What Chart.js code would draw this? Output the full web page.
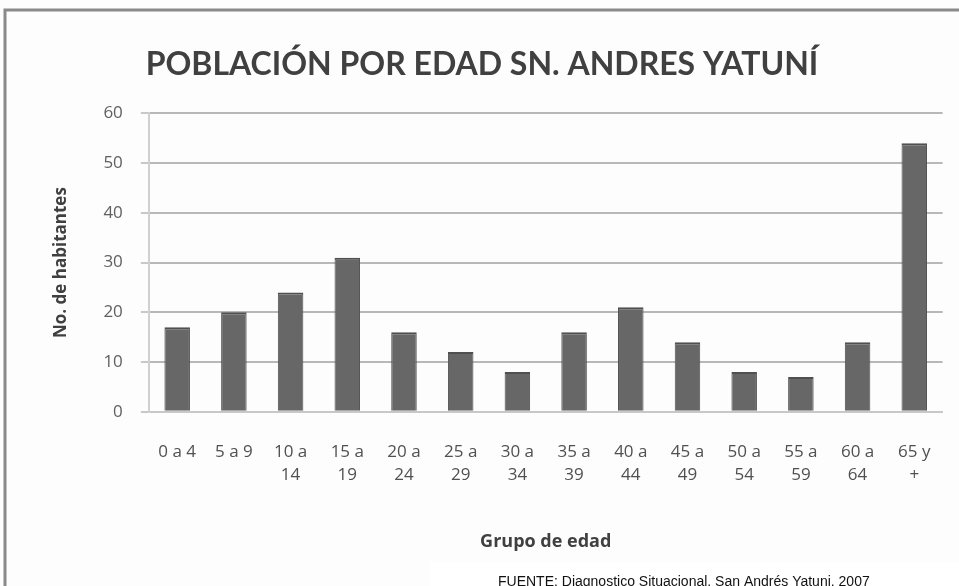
<!DOCTYPE html>
<html><head><meta charset="utf-8">
<script src="https://cdn.jsdelivr.net/npm/chart.js@4"></script>
<style>html,body{margin:0;padding:0;background:#fff}#wrap{width:959px;height:586px;position:relative}</style>
</head><body><div id="wrap"><canvas id="c" width="959" height="586"></canvas></div>
<script>
const categories = [["0 a 4"],["5 a 9"],["10 a","14"],["15 a","19"],["20 a","24"],["25 a","29"],["30 a","34"],["35 a","39"],["40 a","44"],["45 a","49"],["50 a","54"],["55 a","59"],["60 a","64"],["65 y","+"]];
const habitantes = [17,20,24,31,16,12,8,16,21,14,8,7,14,54];
const yTicks = [0,10,20,30,40,50,60];
const titleText = "POBLACIÓN POR EDAD SN. ANDRES YATUNÍ";
const footerText = "FUENTE: Diagnostico Situacional, San Andrés Yatuni, 2007";

const frame = {
  id:'frame',
  beforeDraw(chart){
    const ctx = chart.ctx;
    ctx.save();
    ctx.fillStyle='#fdfdfd';
    ctx.fillRect(0,0,959,586);
    ctx.strokeStyle='#8a8a8a';
    ctx.lineWidth=3;
    ctx.beginPath();
    ctx.moveTo(5,600);ctx.lineTo(5,10);ctx.lineTo(959,10);
    ctx.stroke();
    ctx.restore();
  },
  afterDraw(chart){
    const ctx = chart.ctx;
    ctx.save();
    ctx.fillStyle='#ffffff';
    ctx.fillRect(430,562,529,30);
    ctx.fillStyle='#111';
    ctx.font='14px "Liberation Sans", Arial, sans-serif';
    ctx.textAlign='left';ctx.textBaseline='alphabetic';
    ctx.fillText(footerText,498,586);
    ctx.restore();
  }
};

const ctx = document.getElementById('c').getContext('2d');
new Chart(ctx,{
  type:'bar',
  data:{labels:categories,datasets:[{data:habitantes,
    backgroundColor:function(c){
      const a=c.chart.chartArea; if(!a) return '#666';
      const el=c.element;
      if(!el || !isFinite(el.x)) return '#676767';
      const w=el.width||25, x0=el.x-w/2;
      const g=c.chart.ctx.createLinearGradient(x0,0,x0+w,0);
      g.addColorStop(0,'#5a5a5a');g.addColorStop(0.35,'#7a7a7a');g.addColorStop(0.65,'#707070');g.addColorStop(1,'#525252');
      return g;
    },
    borderColor:'#505050',borderWidth:{left:1,right:1,top:2,bottom:0},
    barPercentage:0.45,categoryPercentage:1.0}]},
  options:{
    responsive:false,animation:false,
    layout:{padding:{left:20,right:15,top:45,bottom:29}},
    plugins:{
      legend:{display:false},tooltip:{enabled:false},
      title:{display:true,text:titleText,color:'#404040',
        font:{family:'Lato, "Open Sans", sans-serif',size:32,weight:'bold'},
        padding:{top:0,bottom:30}}
    },
    scales:{
      x:{
        grid:{display:false,drawTicks:false},
        border:{display:true,color:'#c8c8c8',width:2},
        ticks:{color:'#505050',font:{family:'"Open Sans", sans-serif',size:17,lineHeight:1.4},maxRotation:0,autoSkip:false,padding:28},
        title:{display:true,text:'Grupo de edad',color:'#404040',font:{family:'"Open Sans", sans-serif',size:18,weight:'bold'},padding:{top:16}}
      },
      y:{
        min:0,max:60,
        afterBuildTicks(axis){axis.ticks=yTicks.map(v=>({value:v}));},
        grid:{color:'#b8b8b8',lineWidth:2,tickLength:8,tickColor:'#c8c8c8'},
        border:{display:true,color:'#d0d0d0',width:2},
        ticks:{color:'#606060',font:{family:'"Open Sans", sans-serif',size:17},padding:18},
        title:{display:true,text:'No. de habitantes',color:'#404040',font:{family:'"Open Sans", sans-serif',size:17,weight:'bold'},padding:{top:31,bottom:14}}
      }
    }
  },
  plugins:[frame]
});
</script></body></html>
